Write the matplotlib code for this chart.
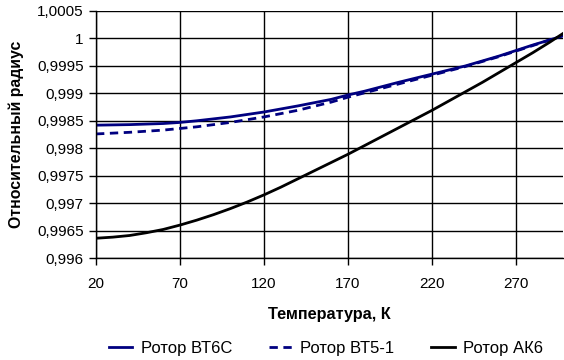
import numpy as np
import matplotlib
matplotlib.use("Agg")
import matplotlib.pyplot as plt
from matplotlib.ticker import MultipleLocator, FuncFormatter

# ---------- данные ----------
temp = [20, 40, 60, 70, 80, 100, 120, 140, 160, 170, 180, 200, 220, 240, 260, 270, 280, 293, 298]

r_bt6c = [0.99842, 0.99843, 0.99845, 0.99847, 0.99850, 0.99857, 0.99866, 0.99877, 0.99889,
          0.99897, 0.99904, 0.99920, 0.99935, 0.99950, 0.99968, 0.99978, 0.99988, 1.00000, 1.00005]
r_bt51 = [0.99826, 0.99829, 0.99833, 0.99836, 0.99839, 0.99847, 0.99857, 0.99869, 0.99884,
          0.99893, 0.99901, 0.99917, 0.99933, 0.99949, 0.99967, 0.99977, 0.99987, 1.00000, 1.00005]

temp_ak6 = [20, 30, 40, 50, 60, 70, 80, 90, 100, 110, 120, 130, 140, 150, 160, 170, 180,
            190, 200, 210, 220, 230, 240, 250, 260, 270, 280, 290, 298]
r_ak6 = [0.99636, 0.99638, 0.99641, 0.99646, 0.99652, 0.99660, 0.99669, 0.99679, 0.99690,
         0.99702, 0.99715, 0.99729, 0.99744, 0.99759, 0.99774, 0.99789, 0.99805, 0.99821,
         0.99837, 0.99853, 0.99869, 0.99886, 0.99903, 0.99920, 0.99938, 0.99956, 0.99974,
         0.99993, 1.00009]

labels = ["Ротор ВТ6С", "Ротор ВТ5-1", "Ротор АК6"]
xticks = [20, 70, 120, 170, 220, 270]

plt.rcParams["font.family"] = ["Liberation Sans", "DejaVu Sans"]

fig = plt.figure(figsize=(5.64, 3.6), dpi=100)
ax = fig.add_axes([96 / 564, 1 - 258 / 360, (563 - 96) / 564, (258 - 11) / 360])

ax.plot(temp, r_bt6c, color="#000080", lw=2.0, label=labels[0])
ax.plot(temp, r_bt51, color="#000080", lw=2.0, ls=(0, (3, 2)), label=labels[1])
ax.plot(temp_ak6, r_ak6, color="black", lw=2.0, label=labels[2])

ax.set_xlim(20, 298)
ax.set_ylim(0.996, 1.0005)
ax.set_xticks(xticks)
ax.yaxis.set_major_locator(MultipleLocator(0.0005))


def fmt_y(v, pos):
    s = f"{v:.4f}".rstrip("0").rstrip(".")
    return s.replace(".", ",")


ax.yaxis.set_major_formatter(FuncFormatter(fmt_y))
ax.grid(True, color="black", lw=1.0)
ax.set_axisbelow(True)
for s in ["top", "right"]:
    ax.spines[s].set_visible(False)
for s in ["left", "bottom"]:
    ax.spines[s].set_linewidth(1.0)
ax.tick_params(axis="both", direction="out", length=5, width=1, labelsize=11, pad=4)
ax.tick_params(axis="x", pad=9)

ax.set_xlabel("Температура, К", fontsize=11.7, fontweight="bold", labelpad=11)
ax.set_ylabel("Относительный радиус", fontsize=11.4, fontweight="bold", labelpad=9)

fig.legend(loc="center", bbox_to_anchor=(326 / 564, 1 - 348 / 360), ncol=3, frameon=False,
           fontsize=12, handlelength=1.4, handletextpad=0.5, columnspacing=2.2)

fig.savefig("out.png", dpi=100)
